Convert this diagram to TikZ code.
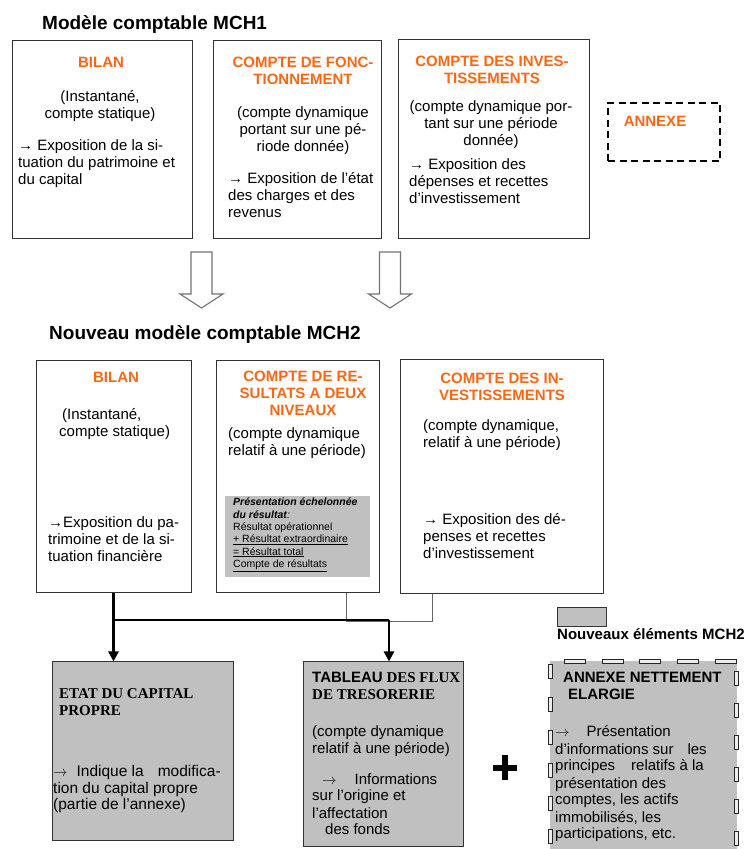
\documentclass[tikz,border=0pt]{standalone}
\usepackage{fontspec}
\setmainfont{Liberation Sans}
\newfontfamily\serifbold{Liberation Serif}
\usetikzlibrary{arrows.meta}
\definecolor{mchorange}{RGB}{255,102,20}
\definecolor{mchgray}{RGB}{192,192,192}

\begin{document}
\begin{tikzpicture}[x=1pt,y=1pt,
    box/.style={draw=black!80,line width=1pt,inner sep=0pt},
    newbox/.style={box,fill=mchgray},
    ttl/.style={font=\bfseries\fontsize{15}{17}\selectfont,text=mchorange,align=center,inner sep=0pt,anchor=base},
    txt/.style={font=\fontsize{15}{17}\selectfont,inner sep=0pt,anchor=base west,align=left},
    ctxt/.style={txt,anchor=base,align=center},
    head/.style={font=\bfseries\fontsize{19}{23}\selectfont,inner sep=0pt,anchor=base west},
    hollow/.style={draw=black!55,line width=1.1pt,fill=white},
    conn/.style={line width=2.5pt,-{Triangle[length=10pt,width=10pt]}},
    feed/.style={draw=black!60,line width=0.8pt},
    dashrect/.style={draw=black!85,line width=0.8pt,fill=gray!15},
  ]
  \useasboundingbox (0,0) rectangle (749,849);

  % MCH1 (text nodes sit on the baseline of their last line)
  \node[head] (mch1) at (42,819) {Modèle comptable MCH1};

  \node[box,minimum width=180pt,minimum height=198pt] (bilan1) at (102,709) {};
  \node[ttl] (bilan1-t) at (101,781) {BILAN};
  \node[ctxt] (bilan1-a) at (100,730) {(Instantané,\\compte statique)};
  \node[txt] (bilan1-b) at (18,664) {→ Exposition de la si-\\tuation du patrimoine et\\du capital};

  \node[box,minimum width=168pt,minimum height=198pt] (fonc) at (297,709) {};
  \node[ttl] (fonc-t) at (303,764) {COMPTE DE FONC-\\TIONNEMENT};
  \node[ctxt] (fonc-a) at (303,697) {(compte dynamique\\portant sur une pé-\\riode donnée)};
  \node[txt] (fonc-b) at (228,631) {→ Exposition de l'état\\des charges et des\\revenus};

  \node[box,minimum width=191pt,minimum height=199pt] (inv1) at (493.5,709.5) {};
  \node[ttl] (inv1-t) at (492,765) {COMPTE DES INVES-\\TISSEMENTS};
  \node[ctxt] (inv1-a) at (491,703) {(compte dynamique por-\\tant sur une période\\donnée)};
  \node[txt] (inv1-b) at (409,645) {→ Exposition des\\dépenses et recettes\\d’investissement};

  \node[draw,line width=2.2pt,dash pattern=on 7pt off 4.5pt,minimum width=112pt,minimum height=58pt] (annexe1) at (664,717) {};
  \node[ttl] (annexe1-t) at (655,722) {ANNEXE};

  % passage MCH1 -> MCH2
  \foreach \cx in {201.5,390}
    \draw[hollow] ({\cx-10.5},597) -- ({\cx+10.5},597) -- ({\cx+10.5},555) -- ({\cx+21.5},555)
      -- (\cx,541) -- ({\cx-21.5},555) -- ({\cx-10.5},555) -- cycle;

  % MCH2
  \node[head] (mch2) at (49,509) {Nouveau modèle comptable MCH2};

  \node[box,minimum width=155pt,minimum height=232pt] (bilan2) at (113.5,372) {};
  \node[ttl] (bilan2-t) at (116,466) {BILAN};
  \node[txt] (bilan2-a) at (59,412) {\hspace*{3pt}(Instantané,\\compte statique)};
  \node[txt] (bilan2-b) at (48,287) {→Exposition du pa-\\trimoine et de la si-\\tuation financière};

  \node[box,minimum width=163pt,minimum height=232pt] (res) at (297.5,372) {};
  \node[ttl] (res-t) at (303,433) {COMPTE DE RE-\\SULTATS A DEUX\\NIVEAUX};
  \node[txt] (res-a) at (228,393) {(compte dynamique\\relatif à une période)};
  \node[fill=mchgray,inner sep=0pt,minimum width=145pt,minimum height=81pt] (detail) at (297.5,312.5) {};
  \node[txt,font=\fontsize{10.5}{12.3}\selectfont] (detail-t) at (233,281.5)
    {\textbf{\textit{Présentation échelonnée}}\\\textbf{\textit{du résultat}}\textit{:}\\Résultat opérationnel\\
     \underline{+ Résultat extraordinaire}\\\underline{= Résultat total}\\\underline{Compte de résultats}};

  \node[box,minimum width=203pt,minimum height=234pt] (inv2) at (501.5,372) {};
  \node[ttl] (inv2-t) at (502,448) {COMPTE DES IN-\\VESTISSEMENTS};
  \node[txt] (inv2-a) at (423,401) {(compte dynamique,\\relatif à une période)};
  \node[txt] (inv2-b) at (423,290) {→ Exposition des dé-\\penses et recettes\\d’investissement};

  % liaisons
  \coordinate (jr) at (389,229);
  \draw[feed] ([xshift=48.5pt]res.south) -- ++(0,-28) -| ([xshift=-69.5pt]inv2.south);
  \draw[line width=1.5pt] (bilan2.south |- jr) -- (jr);

  % nouveaux elements
  \node[newbox,minimum width=181pt,minimum height=179pt] (etat) at (142.5,97.5) {};
  \node[txt,font=\serifbold\bfseries\fontsize{15}{17}\selectfont] (etat-t) at (59,133) {ETAT DU CAPITAL\\PROPRE};
  \node[txt,font=\fontsize{15.5}{16.5}\selectfont] (etat-b) at (53,39)
    {$\rightarrow$\hspace{9pt}Indique la\hspace{14pt}modifica-\\tion du capital propre\\(partie de l'annexe)};

  \node[newbox,minimum width=160pt,minimum height=185pt] (tresor) at (383,94.5) {};
  \node[txt,font=\serifbold\bfseries\fontsize{15}{17}\selectfont] (tresor-t) at (312,149) {{\rmfamily TABLEAU} DES FLUX\\DE TRESORERIE};
  \node[txt] (tresor-a) at (312,95) {(compte dynamique\\relatif à une période)};
  \node[txt] (tresor-b) at (312,14) {\hspace*{10pt}$\rightarrow$\hspace{18pt}Informations\\sur l'origine et\\l'affectation\\\hspace*{13pt}des fonds};

  \draw[conn] (bilan2.south) -- (bilan2.south |- etat.north);
  \draw[conn] (jr) -- (jr |- tresor.north);

  \draw[line width=6pt] (493,81) -- (517,81) (505,69) -- (505,94);

  \node[newbox,line width=0.8pt,minimum width=49pt,minimum height=19pt] (legend) at (581.5,232.5) {};
  \node[txt,font=\bfseries\fontsize{15}{17}\selectfont] (legend-t) at (557,209) {Nouveaux éléments MCH2};

  \node[fill=mchgray,inner sep=0pt,minimum width=187pt,minimum height=194pt] (annexe2) at (643.5,91) {};
  % bordure en petits rectangles
  \foreach \dx in {564,602,639,677,715}
    \draw[dashrect] (\dx,186) rectangle ++(21,4);
  \foreach \dy in {664,697,730,763,796,829}
    \draw[dashrect] (548,{849-\dy}) rectangle ++(4,-14);
  \foreach \dy in {671,703,735,767,799,831}
    \draw[dashrect] (734,{849-\dy}) rectangle ++(4,-14);
  \node[txt,font=\bfseries\fontsize{15}{17}\selectfont] (annexe2-t) at (563,149) {ANNEXE NETTEMENT\\\hspace*{5pt}ELARGIE};
  \node[txt] (annexe2-b) at (555,10) {$\rightarrow$\hspace{17pt}Présentation\\d'informations sur\hspace{14pt}les\\
    principes\hspace{16pt}relatifs à la\\présentation des\\comptes, les actifs\\immobilisés, les\\participations, etc.};
\end{tikzpicture}
\end{document}
